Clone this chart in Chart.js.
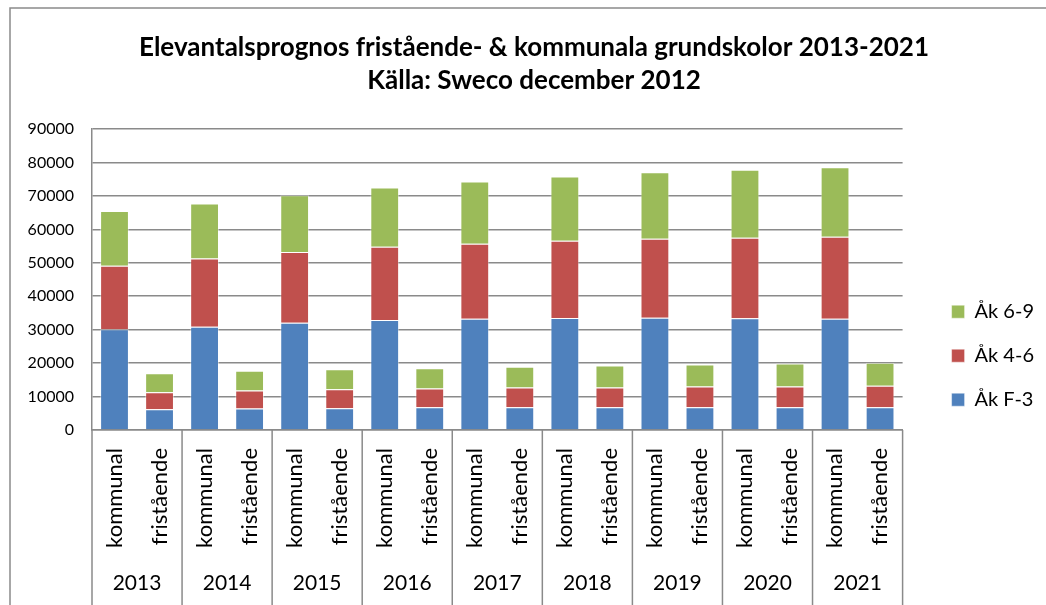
<!DOCTYPE html>
<html>
<head>
<meta charset="utf-8">
<script src="https://cdn.jsdelivr.net/npm/chart.js@4.4.1/dist/chart.umd.min.js"></script>
<style>
    html, body { margin: 0; padding: 0; background: #fff; overflow: hidden; }
    #wrap { position: relative; width: 1046px; height: 605px; }
</style>
</head>
<body>
<div id="wrap"><canvas id="chart" width="1046" height="605"></canvas></div>
<script>
// --- Data ---
const years = ["2013", "2014", "2015", "2016", "2017", "2018", "2019", "2020", "2021"];
const schoolTypes = ["kommunal", "fristående"];
const categories = years.flatMap(() => schoolTypes);

// kommunal, fristående for each year
const akF3 = [30100, 6200, 30900, 6400, 32100, 6500, 32900, 6800, 33300, 6800, 33500, 6800, 33600, 6800, 33400, 6800, 33300, 6800];
const ak46 = [19000, 5100, 20400, 5400, 21100, 5700, 21900, 5600, 22400, 5900, 23100, 5900, 23600, 6200, 24100, 6200, 24500, 6400];
const ak69 = [16400, 5700, 16400, 5900, 17000, 6000, 17700, 6100, 18600, 6200, 19200, 6600, 19900, 6600, 20300, 6900, 20800, 6900];

const yMin = 0, yMax = 90000, yStep = 10000;

const gridColor = "#8a8a8a";

Chart.defaults.font.family = "Lato, 'DejaVu Sans', sans-serif";
Chart.defaults.color = "#000";

// outer frame, like the Excel chart border
const frame = {
    id: "frame",
    beforeDraw(chart) {
        const ctx = chart.ctx;
        ctx.save();
        ctx.strokeStyle = gridColor;
        ctx.lineWidth = 1.5;
        ctx.strokeRect(10, 8, 2000, 2000);
        ctx.restore();
    }
};

// vertical separators between the year groups on the category axis
const yearLines = {
    id: "yearLines",
    afterDraw(chart) {
        const x = chart.scales.x, ctx = chart.ctx;
        const half = (x.getPixelForValue(1) - x.getPixelForValue(0)) / 2;
        ctx.save();
        ctx.strokeStyle = gridColor;
        ctx.lineWidth = 1.5;
        for (let i = 0; i <= categories.length; i += 2) {
            const px = x.getPixelForValue(i) - half;
            ctx.beginPath();
            ctx.moveTo(px, x.top);
            ctx.lineTo(px, chart.height);
            ctx.stroke();
        }
        ctx.restore();
    }
};

const barStyle = { barPercentage: 0.64, categoryPercentage: 1, borderWidth: 1, borderColor: "rgba(255,255,255,0.45)" };

new Chart(document.getElementById("chart"), {
    type: "bar",
    data: {
        labels: categories,
        datasets: [
            { label: "Åk F-3", data: akF3, backgroundColor: "#4F81BD", ...barStyle },
            { label: "Åk 4-6", data: ak46, backgroundColor: "#C0504D", ...barStyle },
            { label: "Åk 6-9", data: ak69, backgroundColor: "#9BBB59", ...barStyle }
        ]
    },
    options: {
        responsive: false,
        animation: false,
        layout: { padding: { left: 24, right: 2, top: 0, bottom: 0 } },
        plugins: {
            title: {
                display: true,
                text: ["Elevantalsprognos fristående- & kommunala grundskolor 2013-2021", "Källa: Sweco december 2012"],
                font: { size: 26, weight: "bold", lineHeight: 1.27 },
                color: "#000",
                padding: { top: 31, bottom: 32 }
            },
            legend: {
                position: "right",
                reverse: true,
                title: { display: true, text: " ", padding: { top: 0, bottom: 92 } },
                labels: { boxWidth: 13, boxHeight: 13, padding: 24, font: { size: 20 }, color: "#000" }
            },
            tooltip: { enabled: false }
        },
        scales: {
            x: {
                stacked: true,
                offset: true,
                grid: { display: false },
                border: { color: gridColor, width: 1.5 },
                ticks: { minRotation: 90, maxRotation: 90, autoSkip: false, padding: 10, font: { size: 22 } },
                afterFit: s => { s.height = 118; }
            },
            x2: {
                type: "category",
                labels: years,
                position: "bottom",
                offset: true,
                grid: { display: false },
                border: { display: false },
                ticks: { padding: 15, font: { size: 21 } },
                afterFit: s => { s.height = 57; }
            },
            y: {
                stacked: true,
                min: yMin,
                max: yMax,
                grid: { color: gridColor, lineWidth: 1.5, drawTicks: false },
                border: { color: gridColor, width: 1.5 },
                ticks: { stepSize: yStep, padding: 18, font: { size: 16 }, callback: v => String(v) },
                afterFit: s => { s.width = 68; }
            },
            gap: {
                type: "linear",
                position: "right",
                grid: { display: false },
                border: { display: false },
                ticks: { display: false },
                afterFit: s => { s.width = 25; }
            }
        }
    },
    plugins: [frame, yearLines]
});
</script>
</body>
</html>
